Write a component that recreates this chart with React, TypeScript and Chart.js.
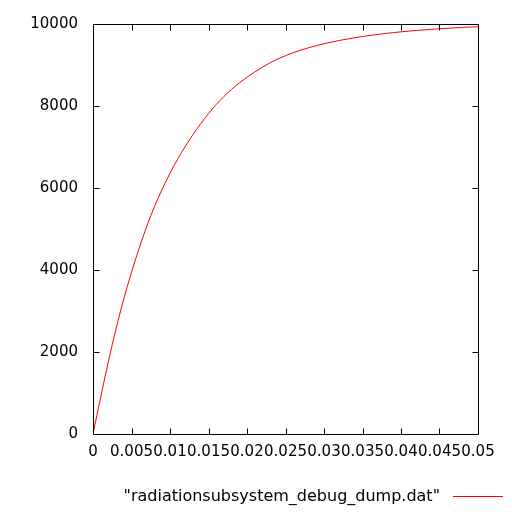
import React, { useEffect, useRef } from "react";
import { Chart, registerables } from "chart.js";

Chart.register(...registerables);

const xValues = [
  0, 0.001, 0.002, 0.003, 0.004, 0.005, 0.006, 0.007, 0.008, 0.009,
  0.010, 0.011, 0.012, 0.013, 0.014, 0.015, 0.016, 0.017, 0.018, 0.019,
  0.020, 0.021, 0.022, 0.023, 0.024, 0.025, 0.026, 0.027, 0.028, 0.029,
  0.030, 0.031, 0.032, 0.033, 0.034, 0.035, 0.036, 0.037, 0.038, 0.039,
  0.040, 0.041, 0.042, 0.043, 0.044, 0.045, 0.046, 0.047, 0.048, 0.049,
  0.050,
];
const yValues = [
  0, 900, 1770, 2570, 3295, 3945, 4535, 5075, 5555, 5975,
  6360, 6705, 7020, 7308, 7572, 7814, 8036, 8231, 8406, 8561,
  8701, 8829, 8947, 9053, 9148, 9228, 9300, 9364, 9421, 9472,
  9518, 9560, 9598, 9633, 9665, 9694, 9721, 9746, 9769, 9790,
  9809, 9826, 9842, 9857, 9871, 9884, 9896, 9907, 9917, 9926,
  9934,
];
const seriesLabel = '"radiationsubsystem_debug_dump.dat"';
const xTickStep = 0.005;
const yTickStep = 2000;
const xMin = 0, xMax = 0.05, yMin = 0, yMax = 10000;

const FONT = "'DejaVu Sans', sans-serif";

const framePlugin = {
  id: "gnuFrame",
  afterDraw(chart: any) {
    const { ctx, chartArea } = chart;
    const { left, right, top, bottom } = chartArea;
    const xs = chart.scales.x;
    const ys = chart.scales.y;
    ctx.save();
    ctx.strokeStyle = "#000";
    ctx.lineWidth = 1;
    ctx.beginPath();
    const L = Math.round(left) + 0.5, R = Math.round(right) + 0.5;
    const T = Math.round(top) + 0.5, B = Math.round(bottom) + 0.5;
    ctx.rect(L, T, R - L, B - T);
    const tl = 6;
    xs.ticks.forEach((t: any) => {
      const px = Math.round(xs.getPixelForValue(t.value)) + 0.5;
      ctx.moveTo(px, B);
      ctx.lineTo(px, B - tl);
      ctx.moveTo(px, T);
      ctx.lineTo(px, T + tl);
    });
    ys.ticks.forEach((t: any) => {
      const py = Math.round(ys.getPixelForValue(t.value)) + 0.5;
      ctx.moveTo(L, py);
      ctx.lineTo(L + tl, py);
      ctx.moveTo(R, py);
      ctx.lineTo(R - tl, py);
    });
    ctx.stroke();

    // key
    ctx.font = `16px ${FONT}`;
    ctx.fillStyle = "#000";
    ctx.textAlign = "right";
    ctx.textBaseline = "middle";
    ctx.fillText(seriesLabel, 440, 497);
    ctx.strokeStyle = "#ff0000";
    ctx.beginPath();
    ctx.moveTo(453, 496.5);
    ctx.lineTo(503, 496.5);
    ctx.stroke();
    ctx.restore();
  },
};

function fmt(v: number) {
  return String(Number(v.toFixed(4)));
}

export default function App() {
  const ref = useRef<HTMLCanvasElement>(null);
  useEffect(() => {
    if (!ref.current) return;
    const chart = new Chart(ref.current, {
      type: "line",
      data: {
        datasets: [
          {
            label: seriesLabel,
            data: xValues.map((x, i) => ({ x, y: yValues[i] })),
            borderColor: "#ff0000",
            borderWidth: 1,
            pointRadius: 0,
            fill: false,
            cubicInterpolationMode: "monotone",
          },
        ],
      },
      options: {
        animation: false,
        responsive: false,
        devicePixelRatio: 1,
        layout: { padding: { left: 0, right: 34, top: 22, bottom: 0 } },
        plugins: { legend: { display: false }, tooltip: { enabled: false } },
        scales: {
          x: {
            type: "linear",
            min: xMin,
            max: xMax,
            grid: { display: false, drawTicks: false },
            border: { display: false },
            afterFit: (s: any) => { s.height = 78; },
            ticks: {
              stepSize: xTickStep,
              autoSkip: false,
              maxRotation: 0,
              minRotation: 0,
              padding: 9,
              color: "#000",
              font: { family: FONT, size: 15 },
              callback: (v: any) => fmt(Number(v)),
            },
          },
          y: {
            type: "linear",
            min: yMin,
            max: yMax,
            grid: { display: false, drawTicks: false },
            border: { display: false },
            afterFit: (s: any) => { s.width = 93; },
            ticks: {
              stepSize: yTickStep,
              padding: 15,
              color: "#000",
              font: { family: FONT, size: 15 },
              callback: (v: any) => fmt(Number(v)),
            },
          },
        },
      },
      plugins: [framePlugin],
    } as any);
    return () => chart.destroy();
  }, []);
  return (
    <div style={{ position: "absolute", left: 0, top: 0, width: 512, height: 512, background: "#fff" }}>
      <canvas ref={ref} width={512} height={512} style={{ width: 512, height: 512 }} />
    </div>
  );
}
